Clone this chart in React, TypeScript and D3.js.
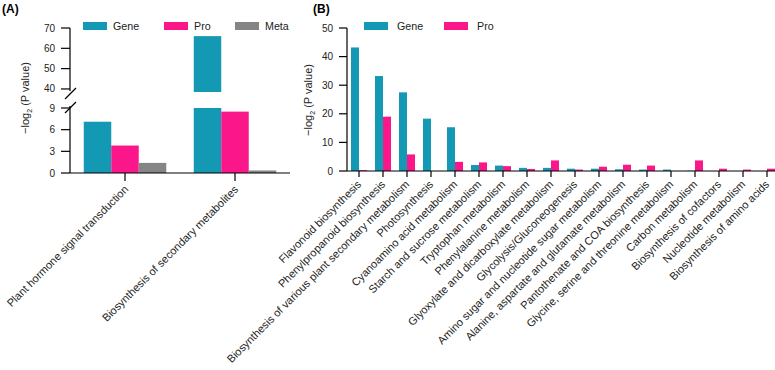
import React from 'react';
import * as d3 from 'd3';

// panel A
const seriesA = ['Gene', 'Pro', 'Meta'];
const categoriesA = ['Plant hormone signal transduction', 'Biosynthesis of secondary metabolites'];
const geneA = [7.1, 66];
const proA = [3.8, 8.5];
const metaA = [1.4, 0.35];
const lowTicksA = [0, 3, 6, 9];
const highTicksA = [40, 50, 60, 70];

// panel B
const seriesB = ['Gene', 'Pro'];
const categoriesB = [
  'Flavonoid biosynthesis',
  'Phenylpropanoid biosynthesis',
  'Biosynthesis of various plant secondary metabolism',
  'Photosynthesis',
  'Cyanoamino acid metabolism',
  'Starch and sucrose metabolism',
  'Tryptophan metabolism',
  'Phenylalanine metabolism',
  'Glyoxylate and dicarboxylate metabolism',
  'Glycolysis/Gluconeogenesis',
  'Amino sugar and nucleotide sugar metabolism',
  'Alanine, aspartate and glutamate metabolism',
  'Pantothenate and COA biosynthesis',
  'Glycine, serine and threonine metabolism',
  'Carbon metabolism',
  'Biosynthesis of cofactors',
  'Nucleotide metabolism',
  'Biosynthesis of amino acids',
];
const geneB = [43.2, 33.2, 27.5, 18.3, 15.3, 2.1, 1.9, 1.1, 1.1, 0.8, 0.8, 0.6, 0.5, 0.5, 0.1, 0, 0, 0];
const proB = [0.3, 19, 5.8, 0, 3.2, 3.0, 1.7, 0.7, 3.7, 0.5, 1.5, 2.2, 1.9, 0, 3.7, 0.8, 0.5, 0.8];
const ticksB = [0, 10, 20, 30, 40, 50];

const colors: Record<string, string> = { Gene: '#1399b3', Pro: '#fb1789', Meta: '#858585' };
const font = '"Liberation Sans", Arial, sans-serif';
const labelSize = 11;

function YTitle({ x, y }: { x: number; y: number }) {
  return (
    <text transform={`translate(${x},${y}) rotate(-90)`} textAnchor="middle" fontSize={11} fill="#222">
      −log<tspan fontSize={7} dy={3}>2</tspan><tspan dy={-3}> (P value)</tspan>
    </text>
  );
}

function PanelA() {
  const axisX = 70, baseY = 173;
  const x0 = d3.scaleBand().domain(categoriesA).range([70, 290]).paddingInner(0.25).paddingOuter(0.125);
  const x1 = d3.scaleBand().domain(seriesA).range([0, x0.bandwidth()]);
  const yLow = d3.scaleLinear().domain([0, 9]).range([baseY, 108]);
  const yHigh = d3.scaleLinear().domain([38.5, 70]).range([92, 28]);
  const values: Record<string, number[]> = { Gene: geneA, Pro: proA, Meta: metaA };

  const bars: JSX.Element[] = [];
  categoriesA.forEach((c, i) => {
    seriesA.forEach(s => {
      const v = values[s][i];
      const x = x0(c)! + x1(s)!;
      const w = x1.bandwidth();
      if (v <= 9) {
        bars.push(<rect key={c + s} x={x} y={yLow(v)} width={w} height={baseY - yLow(v)} fill={colors[s]} />);
      } else {
        // broken bar: lower part up to 9, upper part from the break
        bars.push(<rect key={c + s + 'l'} x={x} y={yLow(9)} width={w} height={baseY - yLow(9)} fill={colors[s]} />);
        bars.push(<rect key={c + s + 'h'} x={x} y={yHigh(v)} width={w} height={yHigh(38.5) - yHigh(v)} fill={colors[s]} />);
      }
    });
  });

  return (
    <g>
      <text x={2} y={13} fontSize={12} fontWeight="bold">(A)</text>
      {seriesA.map((s, i) => {
        const lx = [83, 164, 235][i];
        return (
          <g key={s}>
            <rect x={lx} y={22} width={24} height={8} fill={colors[s]} />
            <text x={lx + 30} y={30} fontSize={10.7} fill="#222">{s}</text>
          </g>
        );
      })}
      {bars}
      <g stroke="#000" strokeWidth={1.2} fill="none">
        <line x1={axisX} x2={axisX} y1={28} y2={91} />
        <line x1={axisX} x2={axisX} y1={106} y2={baseY} />
        <line x1={65} y1={99} x2={76} y2={88} />
        <line x1={65} y1={113} x2={76} y2={102} />
        <line x1={axisX} x2={290} y1={baseY} y2={baseY} />
        {highTicksA.map(t => <line key={'h' + t} x1={axisX - 9} x2={axisX} y1={yHigh(t)} y2={yHigh(t)} />)}
        {lowTicksA.map(t => <line key={'l' + t} x1={axisX - 9} x2={axisX} y1={yLow(t)} y2={yLow(t)} />)}
        {categoriesA.map(c => {
          const cx = x0(c)! + x0.bandwidth() / 2;
          return <line key={c} x1={cx} x2={cx} y1={baseY} y2={baseY + 8} />;
        })}
      </g>
      {highTicksA.map(t => (
        <text key={'ht' + t} x={axisX - 15} y={yHigh(t)} dy="0.35em" textAnchor="end" fontSize={10} fill="#222">{t}</text>
      ))}
      {lowTicksA.map(t => (
        <text key={'lt' + t} x={axisX - 15} y={yLow(t)} dy="0.35em" textAnchor="end" fontSize={10} fill="#222">{t}</text>
      ))}
      {categoriesA.map(c => {
        const cx = x0(c)! + x0.bandwidth() / 2;
        return (
          <text key={c} transform={`translate(${cx + 4},${baseY + 17}) rotate(-45)`} textAnchor="end" fontSize={labelSize} fill="#222">{c}</text>
        );
      })}
      <YTitle x={29} y={98} />
    </g>
  );
}

function PanelB() {
  const axisX = 347, baseY = 171;
  const x0 = d3.scaleBand().domain(categoriesB).range([axisX, axisX + 18 * 24]).paddingInner(1 / 3).paddingOuter(1 / 6);
  const x1 = d3.scaleBand().domain(seriesB).range([0, x0.bandwidth()]);
  const y = d3.scaleLinear().domain([0, 50]).range([baseY, 28]);
  const values: Record<string, number[]> = { Gene: geneB, Pro: proB };

  return (
    <g>
      <text x={313} y={13} fontSize={12} fontWeight="bold">(B)</text>
      {seriesB.map((s, i) => {
        const lx = [364, 444][i];
        return (
          <g key={s}>
            <rect x={lx} y={22} width={24} height={8} fill={colors[s]} />
            <text x={lx + 33} y={30} fontSize={10.7} fill="#222">{s}</text>
          </g>
        );
      })}
      {categoriesB.map((c, i) => (
        <g key={c}>
          {seriesB.map(s => {
            const v = values[s][i];
            return <rect key={s} x={x0(c)! + x1(s)!} y={y(v)} width={x1.bandwidth()} height={baseY - y(v)} fill={colors[s]} />;
          })}
        </g>
      ))}
      <g stroke="#000" strokeWidth={1.2} fill="none">
        <line x1={axisX} x2={axisX} y1={28} y2={baseY} />
        <line x1={axisX} x2={axisX + 18 * 24} y1={baseY} y2={baseY} />
        {ticksB.map(t => <line key={t} x1={axisX - 8} x2={axisX} y1={y(t)} y2={y(t)} />)}
        {categoriesB.map(c => {
          const cx = x0(c)! + x0.bandwidth() / 2;
          return <line key={c} x1={cx} x2={cx} y1={baseY} y2={baseY + 6} />;
        })}
      </g>
      {ticksB.map(t => (
        <text key={t} x={axisX - 14} y={y(t)} dy="0.35em" textAnchor="end" fontSize={10} fill="#222">{t}</text>
      ))}
      {categoriesB.map(c => {
        const cx = x0(c)! + x0.bandwidth() / 2;
        return (
          <text key={c} transform={`translate(${cx + 3},${baseY + 14}) rotate(-45)`} textAnchor="end" fontSize={labelSize} fill="#222">{c}</text>
        );
      })}
      <YTitle x={312} y={100} />
    </g>
  );
}

export default function App() {
  return (
    <>
      <style>{'body{margin:0}'}</style>
      <svg width={775} height={370} style={{ display: 'block', fontFamily: font, background: '#fff' }}>
        <PanelA />
        <PanelB />
      </svg>
    </>
  );
}
